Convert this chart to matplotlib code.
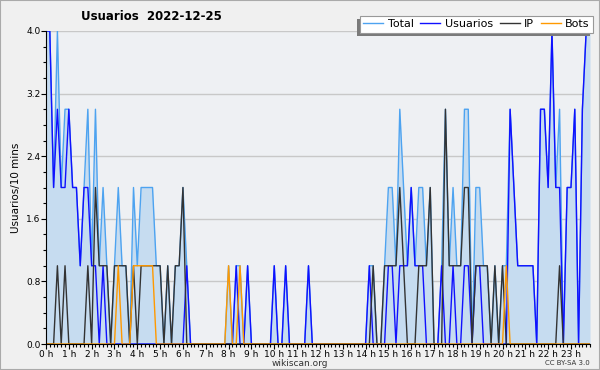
import numpy as np
import matplotlib
matplotlib.use("Agg")
import matplotlib.pyplot as plt
from matplotlib.patches import Rectangle

# one value per 10 minutes, one row per hour (0 h .. 23 h)
usuarios = [4, 4, 2, 3, 2, 2,
            3, 2, 2, 1, 2, 2,
            1, 1, 0, 1, 0, 0,
            0, 0, 0, 0, 0, 0,
            0, 0, 0, 0, 0, 0,
            0, 0, 0, 0, 0, 0,
            0, 1, 0, 0, 0, 0,
            0, 0, 0, 0, 0, 0,
            0, 0, 1, 0, 0, 1,
            0, 0, 0, 0, 0, 0,
            1, 0, 0, 1, 0, 0,
            0, 0, 0, 1, 0, 0,
            0, 0, 0, 0, 0, 0,
            0, 0, 0, 0, 0, 0,
            0, 1, 0, 0, 0, 0,
            1, 1, 0, 1, 1, 1,
            2, 1, 1, 1, 0, 0,
            0, 0, 1, 0, 0, 1,
            0, 0, 1, 1, 0, 1,
            1, 0, 0, 0, 0, 0,
            0, 0, 3, 2, 1, 1,
            1, 1, 1, 0, 3, 3,
            2, 4, 2, 2, 0, 2,
            2, 3, 0, 3, 4, 4]
ip = [0, 0, 0, 1, 0, 1,
      0, 0, 0, 0, 0, 1,
      0, 2, 1, 1, 1, 0,
      1, 1, 1, 1, 0, 1,
      0, 1, 1, 1, 1, 1,
      1, 0, 1, 0, 1, 1,
      2, 0, 0, 0, 0, 0,
      0, 0, 0, 0, 0, 0,
      0, 0, 0, 0, 0, 0,
      0, 0, 0, 0, 0, 0,
      0, 0, 0, 0, 0, 0,
      0, 0, 0, 0, 0, 0,
      0, 0, 0, 0, 0, 0,
      0, 0, 0, 0, 0, 0,
      0, 0, 1, 0, 0, 1,
      1, 1, 1, 2, 1, 0,
      0, 0, 1, 1, 1, 2,
      0, 0, 0, 3, 1, 1,
      1, 1, 2, 2, 0, 1,
      1, 1, 1, 0, 1, 0,
      1, 0, 0, 0, 0, 0,
      0, 0, 0, 0, 0, 0,
      0, 0, 0, 1, 0, 0,
      0, 0, 0, 0, 0, 0]
bots = [0, 0, 0, 0, 0, 0,
        0, 0, 0, 0, 0, 0,
        0, 0, 0, 0, 0, 0,
        0, 1, 0, 0, 0, 1,
        1, 1, 1, 1, 1, 0,
        0, 0, 0, 0, 0, 0,
        0, 0, 0, 0, 0, 0,
        0, 0, 0, 0, 0, 0,
        1, 0, 0, 1, 0, 0,
        0, 0, 0, 0, 0, 0,
        0, 0, 0, 0, 0, 0,
        0, 0, 0, 0, 0, 0,
        0, 0, 0, 0, 0, 0,
        0, 0, 0, 0, 0, 0,
        0, 0, 0, 0, 0, 0,
        0, 0, 0, 0, 0, 0,
        0, 0, 0, 0, 0, 0,
        0, 0, 0, 0, 0, 0,
        0, 0, 0, 0, 0, 0,
        0, 0, 0, 0, 0, 0,
        0, 1, 0, 0, 0, 0,
        0, 0, 0, 0, 0, 0,
        0, 0, 0, 0, 0, 0,
        0, 0, 0, 0, 0, 0]
total = [4, 4, 2, 4, 2, 3,
         3, 2, 2, 1, 2, 3,
         1, 3, 1, 2, 1, 0,
         1, 2, 1, 1, 0, 2,
         1, 2, 2, 2, 2, 1,
         1, 0, 1, 0, 1, 1,
         2, 1, 0, 0, 0, 0,
         0, 0, 0, 0, 0, 0,
         1, 0, 1, 1, 0, 1,
         0, 0, 0, 0, 0, 0,
         1, 0, 0, 1, 0, 0,
         0, 0, 0, 1, 0, 0,
         0, 0, 0, 0, 0, 0,
         0, 0, 0, 0, 0, 0,
         0, 1, 1, 0, 0, 1,
         2, 2, 1, 3, 2, 1,
         2, 1, 2, 2, 1, 2,
         0, 0, 1, 3, 1, 2,
         1, 1, 3, 3, 0, 2,
         2, 1, 1, 0, 1, 0,
         1, 1, 3, 2, 1, 1,
         1, 1, 1, 0, 3, 3,
         2, 4, 2, 3, 0, 2,
         2, 3, 0, 3, 4, 4]

hour_labels = ["%d h" % h for h in range(24)]

x = np.arange(len(total))

fig = plt.figure(figsize=(6, 3.7), dpi=100, facecolor="#f0f0f0")
ax = fig.add_axes([46 / 600, 1 - 344 / 370, 544 / 600, 313 / 370])
ax.set_facecolor("#eef0f3")

ax.fill_between(x, total, 0, color="#c6dcf0", lw=0)
ax.plot(x, total, color="#4da3f0", lw=1, label="Total")
ax.plot(x, usuarios, color="#1010ff", lw=1, label="Usuarios")
ax.plot(x, ip, color="#333333", lw=1, label="IP")
ax.plot(x, bots, color="#ff9900", lw=1, label="Bots")

ax.set_xlim(0, len(total) - 1)
ax.set_ylim(0, 4)
ax.set_xticks(np.arange(0, 144, 6))
ax.set_xticklabels(hour_labels)
ax.set_xticks(np.arange(0, 144, 1), minor=True)
ax.set_yticks(np.arange(0, 4.01, 0.8))
ax.set_yticklabels(["%.1f" % v for v in np.arange(0, 4.01, 0.8)])
ax.set_yticks(np.arange(0, 4.01, 0.2), minor=True)
ax.tick_params(axis="both", which="major", length=3.5, width=0.8, labelsize=6.5, pad=0.5)
ax.tick_params(axis="both", which="minor", length=2.5, width=0.8)
ax.grid(axis="y", color="#c8c8c8", lw=1)
ax.set_axisbelow(True)
for s in ["top", "right"]:
    ax.spines[s].set_visible(False)

ax.set_ylabel("Usuarios/10 mins", fontsize=7.5, labelpad=4)

fig.text(151 / 600, 1 - 17 / 370, "Usuarios  2022-12-25", fontsize=8.5,
         fontweight="bold", ha="center", va="center")
fig.text(0.5, 1 - 363 / 370, "wikiscan.org", fontsize=6.5, ha="center", va="center",
         color="#333333")
fig.text(590 / 600, 1 - 363 / 370, "CC BY-SA 3.0", fontsize=5, ha="right", va="center",
         color="#333333")

handles, labels = ax.get_legend_handles_labels()
leg = fig.legend(handles, labels, loc="upper right", bbox_to_anchor=(593 / 600, 1 - 16 / 370),
                 ncol=4, fontsize=8, frameon=True, fancybox=False, shadow=False,
                 framealpha=1, handlelength=1.8, handletextpad=0.4, columnspacing=0.6,
                 borderpad=0.3, borderaxespad=0)
leg.get_frame().set_edgecolor("#999999")
leg.get_frame().set_facecolor("white")
leg.get_frame().set_linewidth(0.8)
leg.set_zorder(5)

# legend shadow, offset to the lower left
fig.canvas.draw()
bb = leg.get_window_extent().transformed(fig.transFigure.inverted())
fig.patches.append(Rectangle((bb.x0 - 3 / 600, bb.y0 - 3 / 370), bb.width, bb.height,
                             transform=fig.transFigure, facecolor="#7a7a7a",
                             edgecolor="none", zorder=4))

fig.patches.append(Rectangle((0, 0), 1, 1, transform=fig.transFigure, fill=False,
                             edgecolor="#aaaaaa", lw=1.5))

fig.savefig("out.png", dpi=100, facecolor=fig.get_facecolor())
